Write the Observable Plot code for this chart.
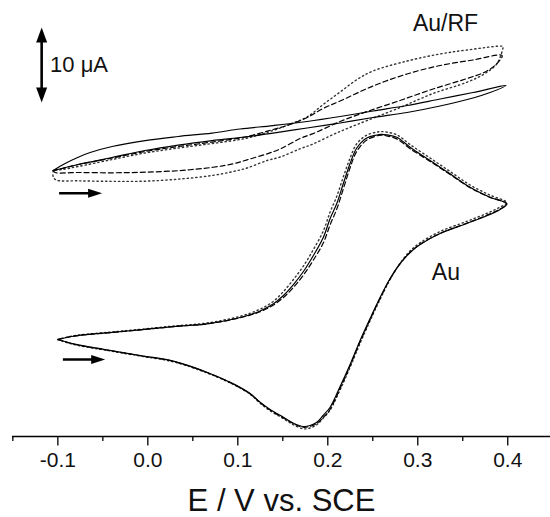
<!DOCTYPE html>
<html><head><meta charset="utf-8">
<script src="https://cdn.jsdelivr.net/npm/d3@7"></script>
<script src="https://cdn.jsdelivr.net/npm/@observablehq/plot@0.6"></script>
<style>html,body{margin:0;padding:0;background:#fff;}</style>
</head><body><div id="chart"></div>
<script>
// ---- Data (E in V vs. SCE, I in µA, arbitrary vertical offset) ----
const xTicks = [-0.1, 0.0, 0.1, 0.2, 0.3, 0.4];
const xTickLabels = ["-0.1", "0.0", "0.1", "0.2", "0.3", "0.4"];
const xMinorTicks = [-0.15, -0.05, 0.05, 0.15, 0.25, 0.35];
const axisTitle = "E / V vs. SCE";

// Bare Au electrode, three scans (solid, dashed, dotted)
const auSolid = [
  [-0.1,0],[-0.0827,-0.57],[-0.0456,-1.37],[-0.0086,-2.13],[0.0284,-2.89],[0.0656,-4.36],[0.0951,-5.91],
  [0.1137,-7.2],[0.1248,-8.36],[0.1359,-9.33],[0.1507,-10.36],[0.1614,-11.13],[0.1729,-11.6],[0.1803,-11.47],
  [0.1878,-11.03],[0.1948,-10.13],[0.2026,-9.03],[0.2137,-6.27],[0.2248,-3.33],[0.2359,-0.13],[0.247,2.8],
  [0.2581,5.6],[0.2692,8.13],[0.2803,10.13],[0.2914,11.6],[0.3026,12.67],[0.3248,14.13],[0.3544,15.47],
  [0.3803,16.67],[0.3914,17.33],[0.3989,18.09],
  [0.3803,18.97],[0.3581,20.31],[0.3359,22.09],[0.3137,23.87],[0.2914,25.64],[0.2767,26.97],[0.2656,27.29],
  [0.2592,27.36],[0.2544,27.27],[0.2433,26.87],[0.2322,25.53],[0.2248,23.47],[0.2173,20.8],[0.21,18.13],
  [0.2026,16.13],[0.1951,13.64],[0.184,11.2],[0.1729,9.07],[0.1618,7.33],[0.1507,5.87],[0.1396,4.76],
  [0.1248,3.8],[0.1026,2.93],[0.0656,2.09],[0.0284,1.73],[-0.0086,1.29],[-0.0456,0.89],[-0.0827,0.44],[-0.1,0]
];
const auDashed = [
  [-0.1,0],[-0.0827,-0.6],[-0.0456,-1.4],[-0.0086,-2.15],[0.0284,-2.92],[0.0656,-4.4],[0.0951,-5.95],
  [0.1137,-7.25],[0.1248,-8.4],[0.1359,-9.4],[0.1507,-10.45],[0.1614,-11.2],[0.1729,-11.7],[0.1803,-11.58],
  [0.1878,-11.2],[0.1948,-10.4],[0.2026,-9.3],[0.2137,-6.5],[0.2248,-3.5],[0.2359,-0.3],[0.247,2.65],
  [0.2581,5.5],[0.2692,8.05],[0.2803,10.1],[0.2914,11.6],[0.3026,12.7],[0.3248,14.15],[0.3544,15.5],
  [0.3803,16.75],[0.3914,17.4],[0.3989,18.1],
  [0.3803,18.95],[0.3581,20.25],[0.3359,22.0],[0.3137,23.75],[0.2914,25.45],[0.2767,26.75],[0.2656,27.15],
  [0.2592,27.25],[0.2544,27.15],[0.2433,26.6],[0.2322,25.1],[0.2248,22.9],[0.2173,20.1],[0.21,17.4],
  [0.2026,15.3],[0.1951,12.9],[0.184,10.6],[0.1729,8.6],[0.1618,6.95],[0.1507,5.6],[0.1396,4.6],
  [0.1248,3.7],[0.1026,2.9],[0.0656,2.08],[0.0284,1.72],[-0.0086,1.28],[-0.0456,0.88],[-0.0827,0.44],[-0.1,0]
];
const auDotted = [
  [-0.1,0],[-0.0827,-0.65],[-0.0456,-1.45],[-0.0086,-2.2],[0.0284,-2.97],[0.0656,-4.45],[0.0951,-6.0],
  [0.1137,-7.3],[0.1248,-8.5],[0.1359,-9.5],[0.1507,-10.55],[0.1614,-11.35],[0.1729,-11.9],[0.1803,-11.8],
  [0.1878,-11.35],[0.1948,-10.5],[0.2026,-9.4],[0.2137,-6.7],[0.2248,-3.7],[0.2359,-0.5],[0.247,2.5],
  [0.2581,5.35],[0.2692,8.0],[0.2803,10.15],[0.2914,11.8],[0.3026,12.9],[0.3248,14.4],[0.3544,15.75],
  [0.3803,17.0],[0.3914,17.65],[0.3989,18.25],
  [0.3803,19.25],[0.3581,20.6],[0.3359,22.4],[0.3137,24.2],[0.2914,26.0],[0.2767,27.3],[0.2656,27.65],
  [0.2592,27.72],[0.2544,27.65],[0.2433,27.25],[0.2322,26.1],[0.2248,24.2],[0.2173,21.7],[0.21,19.1],
  [0.2026,17.0],[0.1951,14.5],[0.184,12.0],[0.1729,9.8],[0.1618,8.0],[0.1507,6.4],[0.1396,5.1],
  [0.1248,4.05],[0.1026,3.1],[0.0656,2.2],[0.0284,1.8],[-0.0086,1.35],[-0.0456,0.95],[-0.0827,0.5],[-0.1,0]
];

// Au/RF electrode, three scans (solid, dashed, dotted)
const rfSolid = [
  [-0.1052,22.53],[-0.0774,23.33],[-0.0397,24.27],[-0.003,25.2],[0.0337,25.93],[0.0714,26.53],[0.1081,27.0],
  [0.1392,27.53],[0.177,28.2],[0.2137,28.87],[0.2503,29.6],[0.2881,30.27],[0.3248,31.13],[0.3614,32.2],
  [0.3803,32.93],[0.3981,33.87],
  [0.3614,32.93],[0.3248,32.07],[0.2881,31.2],[0.2503,30.47],[0.2137,29.73],[0.177,29.07],[0.1392,28.53],
  [0.1026,28.07],[0.0714,27.53],[0.0337,27.07],[-0.003,26.53],[-0.0397,25.73],[-0.0641,24.93],[-0.0774,24.31],
  [-0.0919,23.47],[-0.1052,22.53]
];
const rfDashed = [
  [-0.1052,22.53],[-0.103,22.27],[-0.0774,22.27],[-0.0397,22.23],[-0.003,22.31],[0.0359,22.53],[0.0726,22.97],
  [0.0948,23.43],[0.1103,23.96],[0.1326,24.76],[0.147,25.4],[0.1692,26.8],[0.1837,27.45],[0.2137,29.07],
  [0.2437,30.4],[0.2803,31.87],[0.317,33.4],[0.3548,34.8],[0.3748,35.67],[0.3881,36.8],[0.3937,37.87],
  [0.3614,37.27],[0.3248,36.53],[0.2881,35.4],[0.2503,33.8],[0.2137,31.8],[0.1948,30.8],[0.177,29.6],
  [0.1581,28.67],[0.1392,28.0],[0.1081,27.0],[0.0714,26.33],[0.0337,25.73],[-0.003,25.07],[-0.0397,24.2],
  [-0.0774,23.33],[-0.0952,22.8],[-0.1052,22.53]
];
const rfDotted = [
  [-0.1052,22.53],[-0.1052,21.73],[-0.1019,21.27],[-0.0774,21.16],[-0.0397,21.09],[-0.003,21.11],[0.0359,21.4],
  [0.0714,21.87],[0.0948,22.4],[0.1103,22.87],[0.1326,23.87],[0.147,24.33],[0.1692,25.43],[0.1837,26.07],
  [0.2059,27.33],[0.2214,28.13],[0.2437,29.2],[0.2803,30.93],[0.317,32.8],[0.3548,34.31],[0.3748,35.47],
  [0.3881,36.8],[0.3948,38.93],[0.3948,39.07],
  [0.3548,38.6],[0.3248,38.07],[0.2881,37.13],[0.2503,35.8],[0.2326,34.67],[0.2137,33.0],[0.1948,31.33],
  [0.177,29.67],[0.1581,28.73],[0.1392,27.87],[0.1081,26.8],[0.0714,26.13],[0.0337,25.53],[-0.003,24.87],
  [-0.0397,24.0],[-0.0774,23.07],[-0.0952,22.67],[-0.1052,22.53]
];

// Annotations (data coordinates)
const scaleBarTips = [{E:-0.118, I:41.6, dir:"up"}, {E:-0.118, I:31.6, dir:"down"}];
const scaleBarShaft = [{E:-0.118, I1:40.2, I2:33.0}];
const scanArrowShafts = [{E1:-0.0986, E2:-0.058, I:19.51}, {E1:-0.0944, E2:-0.054, I:-2.67}];
const scanArrowTips = [{E:-0.0508, I:19.51}, {E:-0.0474, I:-2.67}];
const labels = [
  {E:-0.1086, I:35.73, text:"10 \u03bcA", size:22, anchor:"start"},
  {E:0.3309, I:41.2, text:"Au/RF", size:23, anchor:"middle"},
  {E:0.3312, I:7.87, text:"Au", size:23, anchor:"middle"}
];

// ---- Build ----
const pts = arr => arr.map(([E, I]) => ({E, I}));
const headRight = {draw(c){ c.moveTo(0,0); c.lineTo(-14,-4.5); c.lineTo(-14,4.5); c.closePath(); }};
const headUp = {draw(c){ c.moveTo(0,0); c.lineTo(-5.5,15); c.lineTo(5.5,15); c.closePath(); }};
const headDown = {draw(c){ c.moveTo(0,0); c.lineTo(-5.5,-15); c.lineTo(5.5,-15); c.closePath(); }};

const yDomain = [-12.93, 45.2];
const lineOpts = {x:"E", y:"I", curve:"catmull-rom", stroke:"#000", strokeWidth:1.2};
const dashOpts = {...lineOpts, strokeDasharray:"5,3"};
const dotOpts = {...lineOpts, stroke:"#333", strokeWidth:1.4, strokeDasharray:"1.3,3"};

const chart = Plot.plot({
  width: 550, height: 517,
  marginLeft: 12, marginRight: 0, marginTop: 0, marginBottom: 81,
  x: {domain: [-0.1504, 0.4475]},
  y: {domain: yDomain, axis: null},
  style: {fontFamily: "'Liberation Sans', Arial, sans-serif", background: "#fff", color: "#000"},
  marks: [
    Plot.ruleY([yDomain[0]], {stroke:"#000", strokeWidth:1.5}),
    Plot.axisX(xMinorTicks, {tickSize:5, tickFormat: () => "", label:null, stroke:"#000", strokeWidth:1.3}),
    Plot.axisX(xTicks, {tickSize:9.5, tickPadding:6, fontSize:21, fill:"#111", stroke:"#000", strokeWidth:1.3,
      tickFormat: d => xTickLabels[xTicks.indexOf(d)], label:null}),
    Plot.text([axisTitle], {frameAnchor:"bottom", dy:74, lineAnchor:"bottom", fontSize:31, fill:"#111"}),
    Plot.line(pts(rfDotted), dotOpts),
    Plot.line(pts(rfDashed), dashOpts),
    Plot.line(pts(rfSolid), lineOpts),
    Plot.line(pts(auDotted), dotOpts),
    Plot.line(pts(auDashed), dashOpts),
    Plot.line(pts(auSolid), lineOpts),
    Plot.link(scaleBarShaft, {x1:"E", x2:"E", y1:"I1", y2:"I2", stroke:"#000", strokeWidth:2.6}),
    Plot.dot(scaleBarTips.filter(d => d.dir === "up"), {x:"E", y:"I", symbol: headUp, fill:"#000", stroke:"none"}),
    Plot.dot(scaleBarTips.filter(d => d.dir === "down"), {x:"E", y:"I", symbol: headDown, fill:"#000", stroke:"none"}),
    Plot.link(scanArrowShafts, {x1:"E1", x2:"E2", y1:"I", y2:"I", stroke:"#000", strokeWidth:2.6}),
    Plot.dot(scanArrowTips, {x:"E", y:"I", symbol: headRight, fill:"#000", stroke:"none"}),
    ...labels.map(l => Plot.text([l], {x:"E", y:"I", text:"text", fontSize:l.size, textAnchor:l.anchor, lineAnchor:"bottom", fill:"#111"}))
  ]
});
document.getElementById("chart").appendChild(chart);
</script>
</body></html>
